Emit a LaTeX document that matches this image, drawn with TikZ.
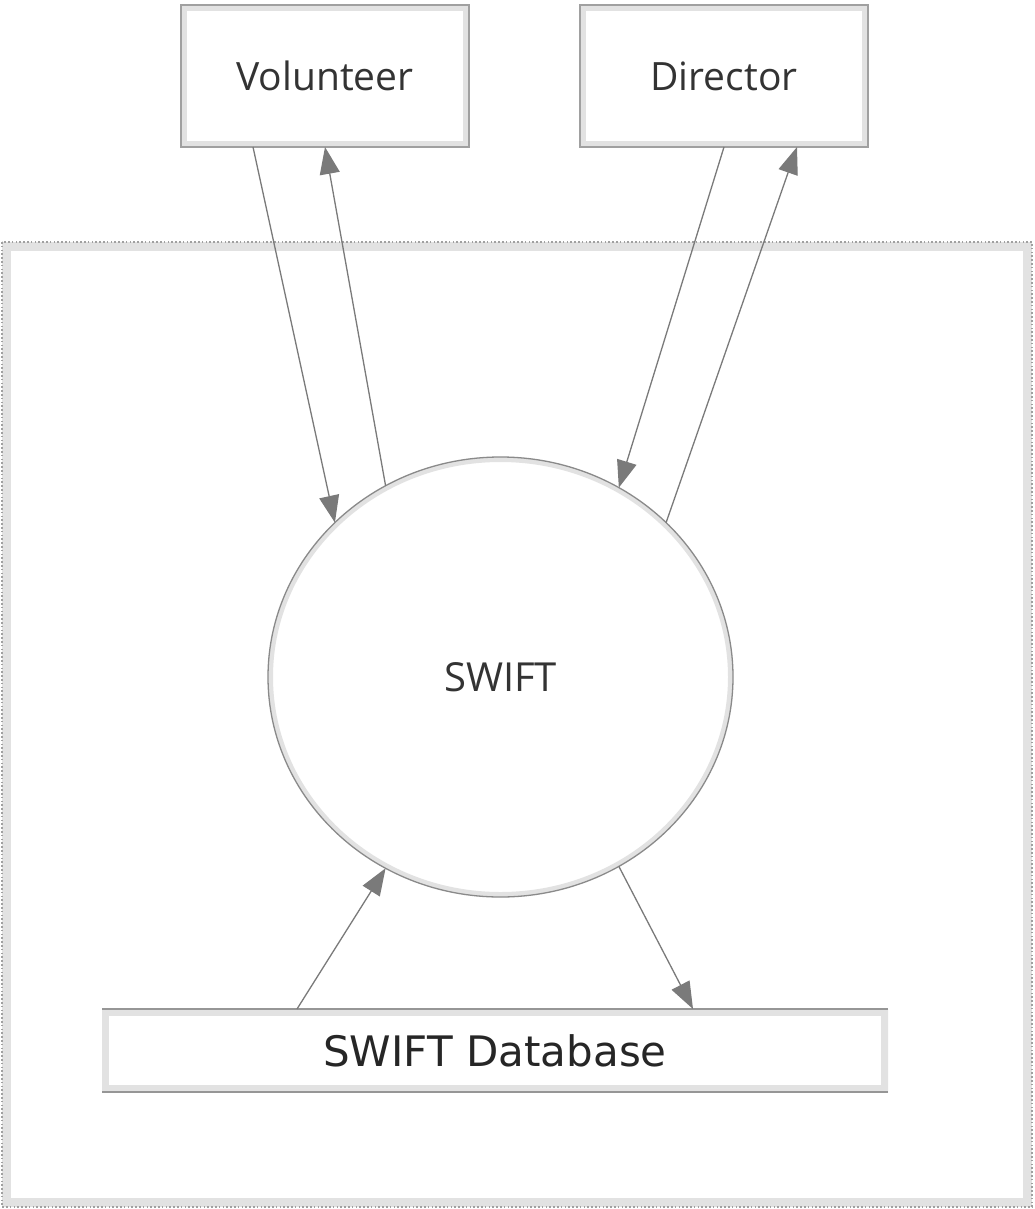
\documentclass[tikz,border=0pt]{standalone}
\usepackage{fontspec}
\setmainfont{Open Sans}
\newfontfamily\dbfont{DejaVu Sans}
\usetikzlibrary{arrows.meta,shapes.geometric}
\definecolor{edgegray}{HTML}{A0A0A0}
\definecolor{bandgray}{HTML}{E2E2E2}
\definecolor{arrgray}{HTML}{7A7A7A}
\definecolor{circgray}{HTML}{8A8A8A}
\definecolor{txtgray}{HTML}{333333}
\begin{document}
\begin{tikzpicture}[x=1pt,y=-1pt,
  entity/.style={draw=edgegray, line width=1.5pt, fill=white,
    minimum width=288pt, minimum height=142pt, inner sep=0pt, outer sep=0pt,
    font=\fontsize{39}{47}\selectfont, text=txtgray,
    path picture={\draw[bandgray, line width=12pt]
      (path picture bounding box.south west) rectangle (path picture bounding box.north east);}},
  process/.style={ellipse, draw=circgray, line width=1.3pt, fill=white,
    minimum width=465pt, minimum height=440pt, inner sep=0pt, outer sep=0pt,
    font=\fontsize{40}{48}\selectfont, text=txtgray,
    path picture={\draw[bandgray, line width=10pt]
      (path picture bounding box.center) ellipse [x radius=232.5pt, y radius=220pt];}},
  store/.style={fill=white, minimum width=786pt, minimum height=83pt,
    inner sep=0pt, outer sep=0pt,
    font=\dbfont\fontsize{42}{50}\selectfont, text=black!85,
    path picture={\draw[bandgray, line width=14pt]
      (path picture bounding box.south west) rectangle (path picture bounding box.north east);}},
  storeline/.style={draw=edgegray!110, line width=2pt},
  flow/.style={draw=arrgray, line width=1.3pt, -{Triangle[length=27pt,width=20pt]}},
  boundary/.style={minimum width=1030pt, minimum height=965pt, inner sep=0pt, outer sep=0pt},
]
\useasboundingbox (0,0) rectangle (1034,1209);
\fill[white] (0,0) rectangle (1034,1209);

% system boundary
\node[boundary] (sys) at (517,724.5) {};
\draw[bandgray, line width=9pt]
  ([shift={(4.5pt,-4.5pt)}]sys.north west) rectangle ([shift={(-4.5pt,4.5pt)}]sys.south east);
\draw[edgegray, line width=1.5pt, dash pattern=on 1.6pt off 2.2pt]
  (sys.north west) rectangle (sys.south east);

% external entities
\node[entity] (vol) at (325,76) {Volunteer};
\node[entity] (dir) at (724,76) {Director};

% process
\node[process] (swift) at (500.5,677) {SWIFT};

% data store
\node[store] (db) at (495,1050.5) {SWIFT Database};
\draw[storeline] (db.north west) -- (db.north east);
\draw[storeline] (db.south west) -- (db.south east);

% flows
\draw[flow] ([xshift=-72pt]vol.south) -- (swift.137);
\draw[flow] (swift.121.5) -- (vol.south);
\draw[flow] (dir.south) -- (swift.58.5);
\draw[flow] (swift.43) -- ([xshift=73pt]dir.south);
\draw[flow] ([xshift=-198pt]db.north) -- (swift.-121.3);
\draw[flow] (swift.-58.3) -- ([xshift=198pt]db.north);
\end{tikzpicture}
\end{document}
